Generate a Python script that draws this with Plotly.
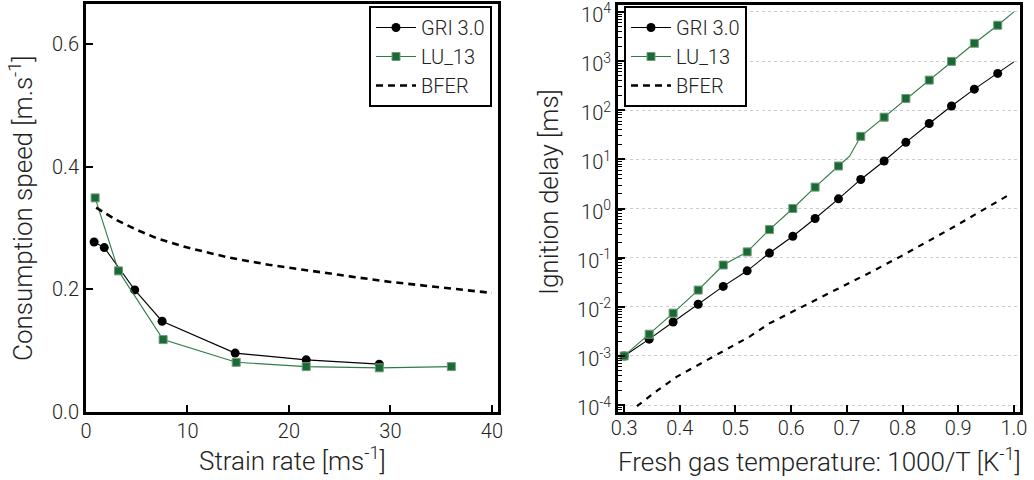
import plotly.graph_objects as go

# ---------------- Data: left panel (consumption speed vs strain rate) ----------------
strain_gri = [0.8, 1.8, 4.8, 7.5, 14.7, 21.7, 28.9]
sc_gri = [0.277, 0.268, 0.199, 0.148, 0.096, 0.085, 0.078]
strain_lu = [0.9, 3.2, 7.6, 14.8, 21.7, 28.9, 36.0]
sc_lu = [0.349, 0.230, 0.118, 0.081, 0.074, 0.072, 0.074]
strain_bfer = [1.0, 2.0, 3.0, 5.0, 7.0, 10.0, 14.0, 18.0, 22.0, 26.0, 30.0, 34.0, 40.0]
sc_bfer = [0.333, 0.323, 0.313, 0.297, 0.283, 0.268, 0.252, 0.240, 0.230, 0.221, 0.212, 0.205, 0.194]

# ---------------- Data: right panel (ignition delay vs 1000/T) ----------------
inv_t = [0.300, 0.345, 0.388, 0.433, 0.478, 0.521, 0.561, 0.603, 0.643,
         0.685, 0.725, 0.767, 0.806, 0.848, 0.888, 0.929, 0.971]
tau_gri = [1.0e-3, 2.2e-3, 4.9e-3, 1.13e-2, 2.6e-2, 5.4e-2, 0.124, 0.272, 0.625,
           1.57, 3.9, 9.25, 22.2, 53.5, 122, 268, 560]
tau_lu = [1.0e-3, 2.77e-3, 7.43e-3, 0.0219, 0.0708, 0.131, 0.372, 1.0, 2.72,
          7.31, 29.4, 72, 173, 409, 984, 2296, 5346]
# continuous curves (markers are drawn only at the sampled points above)
inv_t_gri_line = inv_t + [1.0]
tau_gri_line = tau_gri + [960]
inv_t_lu_line = [0.300, 0.345, 0.388, 0.433, 0.478, 0.521, 0.561, 0.603, 0.643,
                 0.685, 0.705, 0.725, 0.767, 0.806, 0.848, 0.888, 0.929, 0.971, 1.0]
tau_lu_line = [1.0e-3, 2.77e-3, 7.43e-3, 0.0219, 0.0708, 0.131, 0.372, 1.0, 2.72,
               7.31, 11.6, 29.4, 72, 173, 409, 984, 2296, 5346, 10000]
inv_t_bfer = [0.323, 0.360, 0.395, 0.455, 0.526, 0.561, 0.598, 0.658, 0.742, 0.796, 0.885, 0.990]
tau_bfer = [9.5e-5, 2.0e-4, 3.8e-4, 8.9e-4, 2.5e-3, 4.6e-3, 7.6e-3, 0.0166, 0.050, 0.105, 0.38, 1.86]

series_names = ["GRI 3.0", "LU_13", "BFER"]
y_tick_vals = [1e-4, 1e-3, 1e-2, 1e-1, 1e0, 1e1, 1e2, 1e3, 1e4]
y_tick_text = ["10<sup>-4</sup>", "10<sup>-3</sup>", "10<sup>-2</sup>", "10<sup>-1</sup>",
               "10<sup>0</sup>", "10<sup>1</sup>", "10<sup>2</sup>", "10<sup>3</sup>", "10<sup>4</sup>"]

W, H = 1034, 480
FONT = "Roboto"
WEIGHT = 300
TXT = "#222222"
GREEN = "#1b6a35"
GREEN_LINE = "#2f7a45"

def px_x(p):
    return p / W

def px_y(p):
    return (H - p) / H

fig = go.Figure()

gri_marker = dict(symbol="circle", size=9, color="black")
lu_marker = dict(symbol="square", size=8, color=GREEN, line=dict(color="#6f9c7a", width=1))
gri_line = dict(color="black", width=1.1)
lu_line = dict(color=GREEN_LINE, width=1.1)

# ---- Left panel ----
fig.add_trace(go.Scatter(x=strain_gri, y=sc_gri, mode="lines+markers", line=gri_line,
                         marker=gri_marker, name=series_names[0], legend="legend",
                         xaxis="x", yaxis="y"))
fig.add_trace(go.Scatter(x=strain_lu, y=sc_lu, mode="lines+markers", line=lu_line,
                         marker=lu_marker, name=series_names[1], legend="legend",
                         xaxis="x", yaxis="y"))
fig.add_trace(go.Scatter(x=strain_bfer, y=sc_bfer, mode="lines",
                         line=dict(color="black", width=2.6, dash="7px,5px"),
                         name=series_names[2], legend="legend",
                         xaxis="x", yaxis="y"))

# ---- Right panel ----
fig.add_trace(go.Scatter(x=inv_t_gri_line, y=tau_gri_line, mode="lines", line=gri_line,
                         showlegend=False, xaxis="x2", yaxis="y2", hoverinfo="skip"))
fig.add_trace(go.Scatter(x=inv_t_lu_line, y=tau_lu_line, mode="lines", line=lu_line,
                         showlegend=False, xaxis="x2", yaxis="y2", hoverinfo="skip"))
fig.add_trace(go.Scatter(x=inv_t, y=tau_gri, mode="markers", marker=gri_marker,
                         showlegend=False, xaxis="x2", yaxis="y2"))
fig.add_trace(go.Scatter(x=inv_t, y=tau_lu, mode="markers", marker=lu_marker,
                         showlegend=False, xaxis="x2", yaxis="y2"))
fig.add_trace(go.Scatter(x=inv_t_bfer, y=tau_bfer, mode="lines",
                         line=dict(color="black", width=2.2, dash="6px,6px"),
                         showlegend=False, xaxis="x2", yaxis="y2"))
# legend entries for the right panel
fig.add_trace(go.Scatter(x=[None], y=[None], mode="lines+markers", line=gri_line,
                         marker=gri_marker, name=series_names[0], legend="legend2",
                         xaxis="x2", yaxis="y2"))
fig.add_trace(go.Scatter(x=[None], y=[None], mode="lines+markers", line=lu_line,
                         marker=lu_marker, name=series_names[1], legend="legend2",
                         xaxis="x2", yaxis="y2"))
fig.add_trace(go.Scatter(x=[None], y=[None], mode="lines",
                         line=dict(color="black", width=2.6, dash="7px,5px"),
                         name=series_names[2], legend="legend2",
                         xaxis="x2", yaxis="y2"))

tickfont = dict(family=FONT, size=20, color=TXT, weight=WEIGHT)
common_axis = dict(showline=True, linecolor="black", linewidth=3, mirror=True,
                   ticks="inside", ticklen=7, tickwidth=1.5, tickcolor="black",
                   tickfont=tickfont, zeroline=False, showgrid=False, automargin=False,
                   ticklabeloverflow="allow")

legend_style = dict(bgcolor="white", bordercolor="black", borderwidth=2,
                    font=dict(family=FONT, size=20, color=TXT, weight=WEIGHT),
                    itemwidth=40, tracegroupgap=0, yanchor="top")

fig.update_layout(
    width=W, height=H,
    margin=dict(l=0, r=0, t=0, b=0),
    paper_bgcolor="white", plot_bgcolor="white",
    font=dict(family=FONT, color=TXT, weight=WEIGHT),
    xaxis=dict(domain=[px_x(86), px_x(498)], range=[0, 40.6], anchor="y",
               tickvals=[0, 10, 20, 30, 40], ticklabelstandoff=-1, **common_axis),
    yaxis=dict(domain=[px_y(412), px_y(4)], range=[0, 0.665], anchor="x",
               tickvals=[0.0, 0.2, 0.4, 0.6], tickformat=".1f", **common_axis),
    xaxis2=dict(domain=[px_x(618), px_x(1020)], range=[0.289, 1.011], anchor="y2",
                tickvals=[0.3, 0.4, 0.5, 0.6, 0.7, 0.8, 0.9, 1.0], tickformat=".1f",
                ticklabelstandoff=-4, **common_axis),
    yaxis2=dict(domain=[px_y(412), px_y(5)], type="log", range=[-4.14, 4.14], anchor="x2",
                tickvals=y_tick_vals, ticktext=y_tick_text, ticklabelshift=3,
                minor=dict(ticks="inside", ticklen=4, tickcolor="black", tickwidth=1,
                           dtick="D1", showgrid=False),
                **{**common_axis, "showgrid": True},
                gridcolor="#cccccc", griddash="dot", gridwidth=1),
    legend=dict(x=px_x(492), xanchor="right", y=px_y(6), **legend_style),
    legend2=dict(x=px_x(624), xanchor="left", y=px_y(6), **legend_style),
    showlegend=True,
)

title_font = dict(family=FONT, size=26, color=TXT, weight=WEIGHT)
fig.add_annotation(text="Strain rate [ms<sup>-1</sup>]", x=px_x(292), y=px_y(459),
                   xref="paper", yref="paper", showarrow=False, font=title_font,
                   xanchor="center", yanchor="middle")
fig.add_annotation(text="Consumption speed [m.s<sup>-1</sup>]", x=px_x(21), y=px_y(208),
                   xref="paper", yref="paper", showarrow=False, font=title_font,
                   textangle=-90, xanchor="center", yanchor="middle")
fig.add_annotation(text="Fresh gas temperature: 1000/T [K<sup>-1</sup>]", x=px_x(819), y=px_y(460),
                   xref="paper", yref="paper", showarrow=False, font=title_font,
                   xanchor="center", yanchor="middle")
fig.add_annotation(text="Ignition delay [ms]", x=px_x(549), y=px_y(192),
                   xref="paper", yref="paper", showarrow=False, font=title_font,
                   textangle=-90, xanchor="center", yanchor="middle")

fig.write_html("out.html")
